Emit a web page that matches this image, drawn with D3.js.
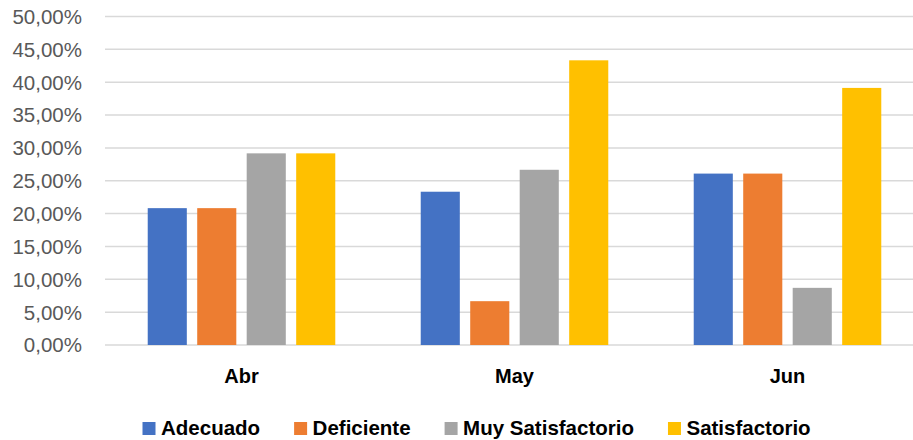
<!DOCTYPE html>
<html>
<head>
<meta charset="utf-8">
<script src="https://cdn.jsdelivr.net/npm/d3@7"></script>
<style>
  body { margin: 0; background: #fff; }
  svg { display: block; font-family: "Liberation Sans", Arial, sans-serif; }
</style>
</head>
<body>
<script>
// data
let months = ["Abr", "May", "Jun"];
let seriesNames = ["Adecuado", "Deficiente", "Muy Satisfactorio", "Satisfactorio"];
let adecuado = [0.2083, 0.2333, 0.2609];
let deficiente = [0.2083, 0.0667, 0.2609];
let muySatisfactorio = [0.2917, 0.2667, 0.0870];
let satisfactorio = [0.2917, 0.4333, 0.3913];
let yTicks = [0, 0.05, 0.10, 0.15, 0.20, 0.25, 0.30, 0.35, 0.40, 0.45, 0.50];
let colors = ["#4472C4", "#ED7D31", "#A5A5A5", "#FFC000"];

let seriesValues = [adecuado, deficiente, muySatisfactorio, satisfactorio];

let width = 913, height = 440;
let svg = d3.select("body").append("svg")
  .attr("width", width)
  .attr("height", height);

// plot area (right side runs past the picture edge, as in the original)
let plotLeft = 105, plotRight = 924, plotTop = 16.5, plotBottom = 345;

let x0 = d3.scaleBand().domain(months).range([plotLeft, plotRight])
  .paddingInner(0.313).paddingOuter(0.1565);
let x1 = d3.scaleBand().domain(seriesNames).range([0, x0.bandwidth()])
  .paddingInner(0.21);
let y = d3.scaleLinear().domain([0, 0.5]).range([plotBottom, plotTop]);

let fmt = function(v) { return d3.format(".2f")(v * 100).replace(".", ",") + "%"; };

// gridlines
svg.append("g")
  .selectAll("line")
  .data(yTicks)
  .enter()
  .append("line")
    .attr("x1", plotLeft)
    .attr("x2", width)
    .attr("y1", d => y(d))
    .attr("y2", d => y(d))
    .attr("stroke", "#d9d9d9")
    .attr("stroke-width", 1.5);

// y labels
svg.append("g")
  .selectAll("text")
  .data(yTicks)
  .enter()
  .append("text")
    .attr("x", 82)
    .attr("y", d => y(d))
    .attr("dy", "0.36em")
    .attr("text-anchor", "end")
    .attr("fill", "#595959")
    .style("font-size", "20.5px")
    .text(fmt);

// bars
let groups = svg.append("g")
  .selectAll("g")
  .data(months)
  .enter()
  .append("g")
    .attr("transform", d => "translate(" + x0(d) + ",0)");

groups.selectAll("rect")
  .data((m, i) => seriesNames.map((s, j) => ({ s: s, v: seriesValues[j][i], c: colors[j] })))
  .enter()
  .append("rect")
    .attr("x", d => x1(d.s))
    .attr("width", x1.bandwidth())
    .attr("y", d => y(d.v))
    .attr("height", d => y(0) - y(d.v))
    .attr("fill", d => d.c);

// category labels
svg.append("g")
  .selectAll("text")
  .data(months)
  .enter()
  .append("text")
    .attr("x", d => x0(d) + x0.bandwidth() / 2)
    .attr("y", 383)
    .attr("text-anchor", "middle")
    .attr("fill", "#000")
    .style("font-size", "20px")
    .style("font-weight", "bold")
    .text(d => d);

// legend
let legend = svg.append("g");
let lx = 142.5;
seriesNames.forEach(function(name, i) {
  legend.append("rect")
    .attr("x", lx)
    .attr("y", 422)
    .attr("width", 13)
    .attr("height", 13)
    .attr("fill", colors[i]);
  let t = legend.append("text")
    .attr("x", lx + 18.5)
    .attr("y", 435)
    .attr("fill", "#000")
    .style("font-size", "20.5px")
    .style("font-weight", "bold")
    .text(name);
  lx += 18.5 + t.node().getComputedTextLength() + 34;
});
</script>
</body>
</html>
